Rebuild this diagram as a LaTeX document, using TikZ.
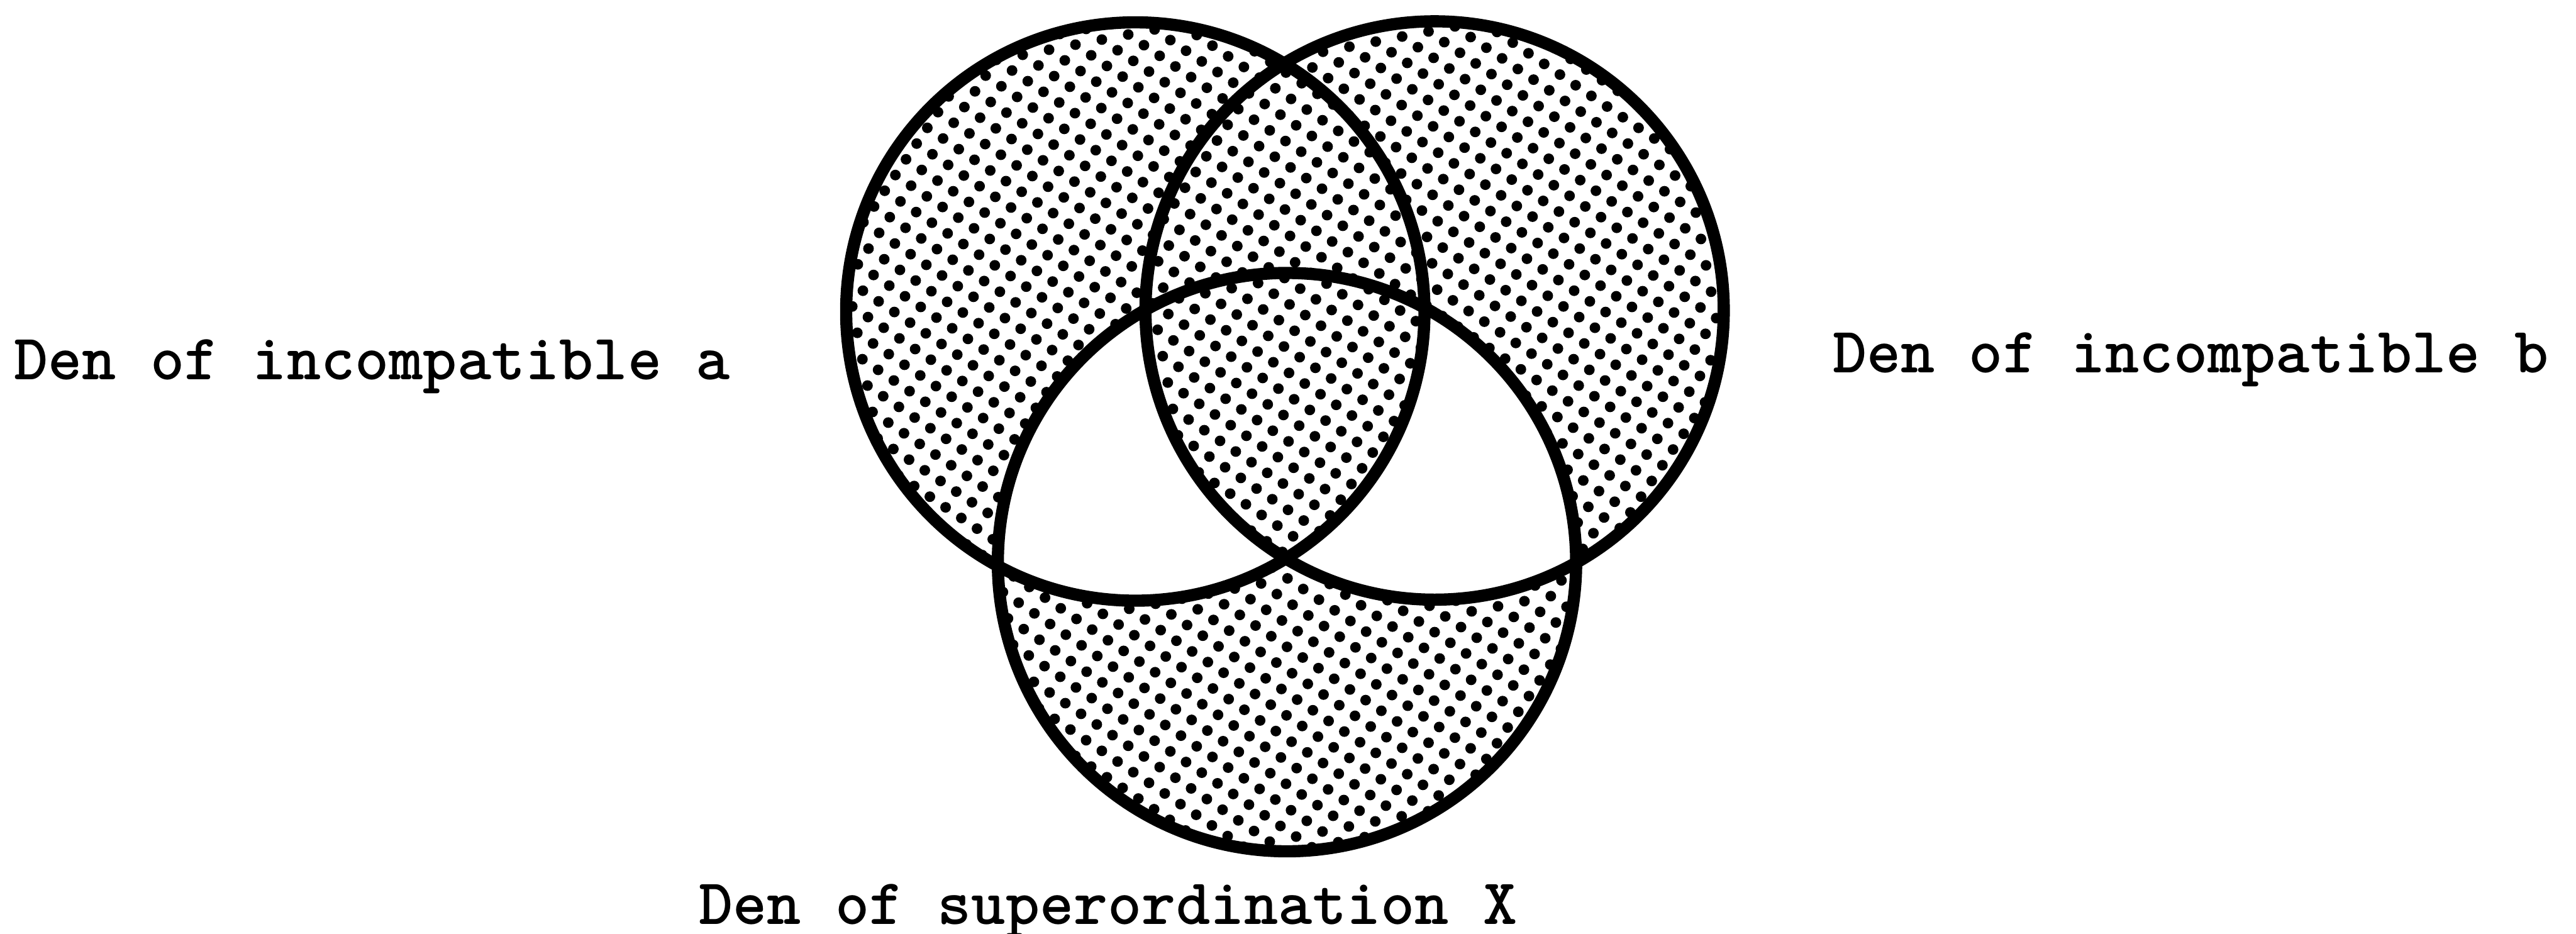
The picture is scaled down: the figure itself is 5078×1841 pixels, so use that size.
\documentclass[tikz,border=0pt]{standalone}
\usepackage{fontspec}
\begin{document}
\begin{tikzpicture}[x=0.01cm,y=-0.01cm,
  ring/.style={draw=black,line width=0.24cm},
  lbl/.style={font=\ttfamily\bfseries\fontsize{36.4pt}{44pt}\selectfont,inner sep=0pt,anchor=base west}]
\useasboundingbox (0,0) rectangle (5078,1841);
\def\R{570}
\coordinate (ca) at (2238,614);
\coordinate (cb) at (2828,612);
\coordinate (cx) at (2537,1108);
% dotted shading over the union of the three circles
\begin{scope}
  \clip (ca) circle (\R) (cb) circle (\R) (cx) circle (\R);
  \foreach \i in {-33,...,33}{\foreach \j in {-33,...,33}{%
    \fill ({2540+31*\i-21*\j},{870+21*\i+31*\j}) circle (10.5);}}
\end{scope}
% unshaded: a and X but not b
\begin{scope}
  \clip (ca) circle (\R);
  \clip (cx) circle (\R);
  \fill[white,even odd rule] (0,0) rectangle (5078,1841) (cb) circle (\R);
\end{scope}
% unshaded: b and X but not a
\begin{scope}
  \clip (cb) circle (\R);
  \clip (cx) circle (\R);
  \fill[white,even odd rule] (0,0) rectangle (5078,1841) (ca) circle (\R);
\end{scope}
\draw[ring] (ca) circle (\R);
\draw[ring] (cb) circle (\R);
\draw[ring] (cx) circle (\R);
\node[lbl] (la) at (27,748) {Den of incompatible a};
\node[lbl] (lb) at (3612,735) {Den of incompatible b};
\node[lbl] (lx) at (1377,1822) {Den of superordination X};
\end{tikzpicture}
\end{document}
